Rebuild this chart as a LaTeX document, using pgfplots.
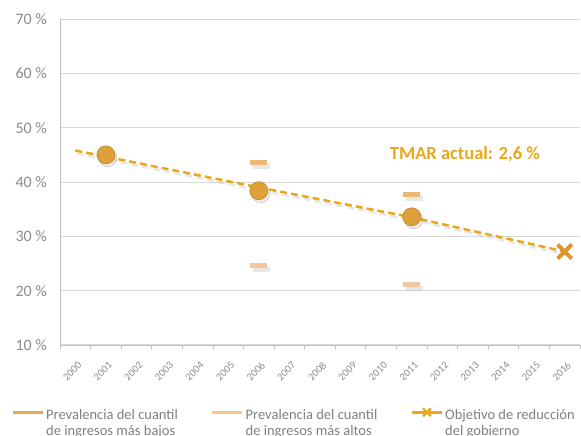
\documentclass[border=0pt]{standalone}
\usepackage{pgfplots}
\pgfplotsset{compat=1.18}
\usepackage{fontspec}
\setmainfont{Carlito}
\definecolor{axisgray}{HTML}{BFBFBF}
\definecolor{gridgray}{HTML}{D9D9D9}
\definecolor{labelgray}{HTML}{8C8C8C}
\definecolor{legendgray}{HTML}{808080}
\definecolor{circfill}{HTML}{DDA03A}
\definecolor{circedge}{HTML}{C08428}
\definecolor{lowq}{HTML}{EDB674}
\definecolor{highq}{HTML}{F1C89C}
\definecolor{legA}{HTML}{EBAA50}
\definecolor{legB}{HTML}{F5C890}
\definecolor{trend}{HTML}{E8A818}
\definecolor{crosscol}{HTML}{E0952A}
\definecolor{shadow}{HTML}{B0B0B0}
\begin{document}
\begin{tikzpicture}
\begin{axis}[
  scale only axis, width=520pt, height=326pt,
  xmin=-0.5, xmax=16.5, ymin=10, ymax=70,
  axis x line=bottom, axis y line=left,
  axis line style={draw=axisgray, line width=0.8pt, -},
  xtick={0,...,16},
  xticklabels={2000,2001,2002,2003,2004,2005,2006,2007,2008,2009,2010,2011,2012,2013,2014,2015,2016},
  minor xtick={-0.5,0.5,...,16.5},
  major tick length=0pt, minor tick length=4pt, tick align=outside,
  minor tick style={draw=axisgray, line width=0.8pt},
  x tick label style={yshift=-16pt, xshift=2pt, rotate=45, anchor=north east, inner sep=0pt, font=\fontsize{10.5}{12}\selectfont, text=labelgray},
  ytick={10,20,...,70},
  /pgf/number format/assume math mode=true,
  yticklabel={\pgfmathprintnumber{\tick} \%},
  y tick label style={anchor=east, inner sep=0pt, xshift=-13pt, font=\fontsize{16}{19}\selectfont, text=labelgray},
  ymajorgrids, grid style={draw=gridgray, line width=1pt},
  clip=false,
  legend style={at={(rel axis cs:0,0)}, anchor=north west, xshift=-49pt, yshift=-62pt,
    draw=none, fill=none, inner sep=0pt, legend columns=3,
    font=\fontsize{14.5}{15.5}\selectfont, text=legendgray,
    nodes={inner sep=1.5pt}},
  legend cell align=left,
]
% shadows
\addplot[only marks, mark=*, mark size=9pt, mark options={fill=shadow, draw=none, opacity=0.25, xshift=2pt, yshift=-3pt}, forget plot] coordinates {(1,45.0) (6,38.4) (11,33.6)};
\addplot[only marks, mark=-, mark size=8.5pt, mark options={draw=shadow, line width=4.5pt, opacity=0.3, xshift=3pt, yshift=-4pt}, forget plot] coordinates {(6,43.6) (11,37.7) (6,24.6) (11,21.1)};
% national average
\addplot[only marks, mark=*, mark size=9pt, mark options={fill=circfill, draw=circedge, line width=0.6pt}, forget plot] coordinates {(1,45.0) (6,38.4) (11,33.6)};
% lowest income quintile
\addplot[only marks, mark=-, mark size=8.5pt, mark options={draw=lowq, line width=4.5pt},
  legend image code/.code={\draw[legA, line width=3.5pt] (0pt,0.33em) -- (30pt,0.33em);}] coordinates {(6,43.6) (11,37.7)};
\addlegendentry{\parbox[t]{163pt}{Prevalencia del cuantil\\de ingresos más bajos}}
% highest income quintile
\addplot[only marks, mark=-, mark size=8.5pt, mark options={draw=highq, line width=4.5pt},
  legend image code/.code={\draw[legB, line width=3.5pt] (0pt,0.33em) -- (30pt,0.33em);}] coordinates {(6,24.6) (11,21.1)};
\addlegendentry{\parbox[t]{163pt}{Prevalencia del cuantil\\de ingresos más altos}}
% trend line
\addplot[draw=shadow, opacity=0.3, line width=2.5pt, dash pattern=on 7pt off 4pt, xshift=2pt, yshift=-3pt, forget plot] coordinates {(0,45.8) (6,39.0) (11,33.5) (16,27.2)};
\addplot[draw=trend, line width=2.5pt, dash pattern=on 7pt off 4pt, forget plot] coordinates {(0,45.8) (6,39.0) (11,33.5) (16,27.2)};
% government target
\addplot[only marks, mark=x, mark size=10pt, mark options={draw=crosscol, line width=4pt},
  legend image code/.code={\draw[trend, line width=3.5pt] (0pt,0.33em) -- (30pt,0.33em);
    \draw[trend, line width=2.2pt] (11pt,0.33em-4pt) -- (19pt,0.33em+4pt) (11pt,0.33em+4pt) -- (19pt,0.33em-4pt);}] coordinates {(16,27.2)};
\addlegendentry{\parbox[t]{135pt}{Objetivo de reducción\\del gobierno}}
\node[anchor=base west, inner sep=0pt, font=\bfseries\fontsize{18.5}{21}\selectfont, text=trend] at (axis cs:10.28,44.05) {TMAR actual: 2,6 \%};
\end{axis}
\pgfresetboundingbox
\path[use as bounding box] (-60pt,-91pt) rectangle (521pt,345pt);
\end{tikzpicture}
\end{document}
